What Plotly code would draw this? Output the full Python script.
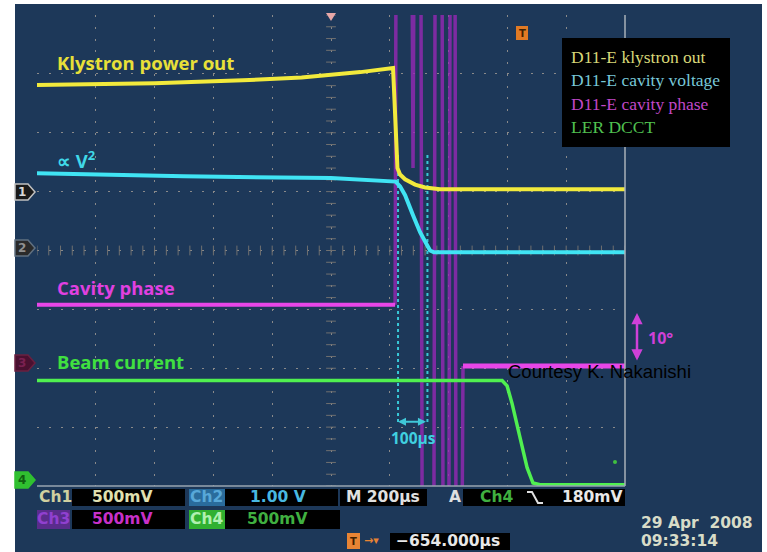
import numpy as np
import plotly.graph_objects as go

W, H = 767, 552

# ---------------- data (time in µs, signal in screen divisions) ----------------
klystron_t = [-1000, -600, -300, -100, 100, 211, 216, 221, 226, 235, 252, 286, 320, 371, 1000]
klystron_v = [2.81, 2.84, 2.89, 2.94, 3.03, 3.10, 2.55, 1.70, 1.40, 1.29, 1.21, 1.12, 1.07, 1.04, 1.04]

cavv_t = [-1000, -500, 0, 220, 235, 252, 279, 303, 327, 337, 350, 1000]
cavv_v = [1.31, 1.26, 1.23, 1.17, 1.09, 0.94, 0.60, 0.31, 0.09, 0.00, -0.03, -0.03]

phase_before_t = [-1000, 218]
phase_before_v = [-0.92, -0.92]
phase_wrap_t = [218, 221, 276, 279, 282, 306, 310, 350, 354, 378, 381, 401, 405, 422, 425, 446, 449]
phase_wrap_v = [-0.92, 4.6, 4.6, 1.4, 4.6, 4.6, -4.6, -4.6, 4.6, 4.6, -4.6, -4.6, 4.6, 4.6, -4.6, -4.6, -1.96]
phase_after_t = [449, 1000]
phase_after_v = [-1.96, -1.96]

beam_t = [-1000, 582, 599, 616, 643, 667, 687, 711, 1000]
beam_v = [-2.21, -2.21, -2.30, -2.60, -3.18, -3.69, -3.95, -3.98, -3.98]

cursor_t = [228, 328]          # 100 µs cursors
cursor_v_top, cursor_v_bot = 1.62, -2.94

legend_names = ["D11-E klystron out", "D11-E cavity voltage", "D11-E cavity phase", "LER DCCT"]
legend_colors = ["#d8d878", "#78c8d8", "#c048c8", "#50c050"]

# ---------------- helpers ----------------
def X(px):
    return px / W

def Y(py):
    return 1 - py / H

NAVY = "#1d3859"
YEL, CYA, MAG, GRN = "#f2ea3c", "#40e4f4", "#e846e8", "#50f050"
GRID = "#8a8a8a"

fig = go.Figure()

# graticule centre-line minor ticks
tick_t = np.arange(-1000, 1001, 40)
tick_v = np.arange(-4, 4.01, 0.2)
fig.add_trace(go.Scatter(x=tick_t, y=[0] * len(tick_t), mode="markers",
                         marker=dict(symbol="line-ns", size=7, line=dict(color="#707070", width=1)),
                         hoverinfo="skip", showlegend=False))
fig.add_trace(go.Scatter(x=[0] * len(tick_v), y=tick_v, mode="markers",
                         marker=dict(symbol="line-ew", size=7, line=dict(color="#707070", width=1)),
                         hoverinfo="skip", showlegend=False))

# phase wrap bands
fig.add_trace(go.Scatter(x=phase_wrap_t, y=phase_wrap_v, mode="lines",
                         line=dict(color="rgba(150,40,180,0.8)", width=3.5), showlegend=False))
# cursors
for ct in cursor_t:
    fig.add_trace(go.Scatter(x=[ct, ct], y=[cursor_v_top, cursor_v_bot], mode="lines",
                             line=dict(color="#38c8d8", width=2, dash="dot"), showlegend=False))
# traces
fig.add_trace(go.Scatter(x=phase_before_t, y=phase_before_v, mode="lines",
                         line=dict(color=MAG, width=4), showlegend=False))
fig.add_trace(go.Scatter(x=phase_after_t, y=phase_after_v, mode="lines",
                         line=dict(color=MAG, width=5), showlegend=False))
fig.add_trace(go.Scatter(x=beam_t, y=beam_v, mode="lines",
                         line=dict(color=GRN, width=3.5), showlegend=False))
fig.add_trace(go.Scatter(x=cavv_t, y=cavv_v, mode="lines",
                         line=dict(color=CYA, width=4), showlegend=False))
fig.add_trace(go.Scatter(x=klystron_t, y=klystron_v, mode="lines",
                         line=dict(color=YEL, width=4), showlegend=False))

shapes = []
# instrument background
shapes.append(dict(type="rect", xref="paper", yref="paper", x0=X(15), x1=X(762), y0=Y(552), y1=Y(4),
                   fillcolor=NAVY, line=dict(width=0), layer="below"))
# graticule borders
shapes.append(dict(type="line", xref="paper", yref="paper", x0=X(625), x1=X(625), y0=Y(486), y1=Y(15),
                   line=dict(color="#a8b0b8", width=1.5), layer="above"))
shapes.append(dict(type="line", xref="paper", yref="paper", x0=X(37), x1=X(625), y0=Y(486), y1=Y(486),
                   line=dict(color="#98a4b0", width=1.5), layer="above"))
# legend box
shapes.append(dict(type="rect", xref="paper", yref="paper", x0=X(562), x1=X(730), y0=Y(147), y1=Y(38),
                   fillcolor="#000000", line=dict(width=0), layer="above"))


def box(x0, x1, y0, y1, color):
    shapes.append(dict(type="rect", xref="paper", yref="paper", x0=X(x0), x1=X(x1), y0=Y(y1), y1=Y(y0),
                       fillcolor=color, line=dict(width=0), layer="above"))


# status bar boxes
box(72, 185, 489, 506, "#000000")
box(189, 225, 489, 506, "#2a6c9c")
box(225, 338, 489, 506, "#000000")
box(340, 427, 489, 506, "#000000")
box(463, 625, 489, 506, "#000000")
box(37, 70, 510, 529, "#5a2c8c")
box(72, 185, 510, 529, "#000000")
box(189, 225, 510, 529, "#30b030")
box(225, 340, 510, 529, "#000000")
box(347, 360, 533, 549, "#e88434")
box(390, 510, 533, 550, "#000000")
box(516, 528, 26, 40, "#e07a24")

# falling-edge trigger symbol
shapes.append(dict(type="path", xref="paper", yref="paper",
                   path=f"M {X(527)},{Y(492)} L {X(532)},{Y(492)} L {X(538)},{Y(503)} L {X(543)},{Y(503)}",
                   line=dict(color="#e0e0e0", width=2), layer="above"))
# trigger position marker at top
shapes.append(dict(type="path", xref="paper", yref="paper",
                   path=f"M {X(326)},{Y(13)} L {X(336)},{Y(13)} L {X(331)},{Y(21)} Z",
                   fillcolor="#e8a8a8", line=dict(width=0), layer="above"))
# small green cursor dot
shapes.append(dict(type="circle", xref="paper", yref="paper", x0=X(613), x1=X(617), y0=Y(464), y1=Y(460),
                   fillcolor="#40c040", line=dict(width=0), layer="above"))

# channel ground markers on the left
markers = [(192, "#1a1a1a", "#c0c0c0", "1", "#d8d8d8"),
           (248, "#2a2a2a", "#607080", "2", "#909090"),
           (363, "#4a1030", "#6a2040", "3", "#7a2050"),
           (480, "#30c030", "#30c030", "4", "#106010")]
for py, fill, edge, lab, tc in markers:
    shapes.append(dict(type="path", xref="paper", yref="paper",
                       path=(f"M {X(15)},{Y(py-8)} L {X(28)},{Y(py-8)} L {X(35)},{Y(py)} "
                             f"L {X(28)},{Y(py+8)} L {X(15)},{Y(py+8)} Z"),
                       fillcolor=fill, line=dict(color=edge, width=1.5), layer="above"))

ann = []


def txt(s, px, py, color, size=16, family="DejaVu Sans", weight="bold", xanchor="left"):
    ann.append(dict(text=s, x=X(px), y=Y(py), xref="paper", yref="paper", showarrow=False,
                    xanchor=xanchor, yanchor="middle",
                    font=dict(family=family, size=size, color=color, weight=weight)))


for py, fill, edge, lab, tc in markers:
    txt(lab, 22, py, tc, size=12, xanchor="center")

# trace labels
LF = "Open Sans"
TL = 18.5
txt("Klystron power out", 55, 62, "#e8e038", size=TL, family=LF)
txt("∝ V<sup>2</sup>", 55, 159, "#40d8e8", size=TL, family=LF)
txt("Cavity phase", 55, 287, "#e040e0", size=TL, family=LF)
txt("Beam current", 55, 361, "#40e040", size=TL, family=LF)

# legend entries
for i, (name, col) in enumerate(zip(legend_names, legend_colors)):
    txt(name, 569, 57 + i * 23.3, col, size=17.5, family="Liberation Serif", weight="normal")

# cursor readout
txt("100µs", 414, 438, "#40d0e0", size=15.5, family=LF, xanchor="center")
ann.append(dict(x=cursor_t[0], y=-2.91, ax=cursor_t[1], ay=-2.91, xref="x", yref="y",
                axref="x", ayref="y", showarrow=True, arrowhead=2, arrowside="end+start",
                arrowsize=0.8, arrowwidth=2, arrowcolor="#40c8d8", text=""))

# 10 degree scale
ann.append(dict(x=X(637), y=Y(313), ax=0, ay=49, xref="paper", yref="paper",
                showarrow=True, arrowhead=2, arrowside="end+start",
                arrowsize=0.9, arrowwidth=2.5, arrowcolor="#d040d8", text=""))
txt("10°", 646, 338, "#d040d8", size=16, family=LF)

# courtesy
txt("Courtesy K. Nakanishi", 506, 371, "#000000", size=18.5, family="Liberation Sans", weight="normal")

# status bar text
SB = 15.5
txt("Ch1", 37, 497, "#d0d0a0", size=SB)
txt("500mV", 90, 497, "#e0e0b0", size=SB)
txt("Ch2", 207, 497, "#58a8d8", size=SB, xanchor="center")
txt("1.00 V", 248, 497, "#48b8e0", size=SB)
txt("M 200µs", 344, 497, "#e0e0e0", size=SB)
txt("A", 455, 497, "#e0e0e0", size=SB, xanchor="center")
txt("Ch4", 478, 497, "#40b040", size=SB)
txt("180mV", 560, 497, "#e8e8e8", size=SB)
txt("Ch3", 53, 519, "#9040d0", size=SB, xanchor="center")
txt("500mV", 90, 519, "#c830c8", size=SB)
txt("Ch4", 207, 519, "#b0f0b0", size=SB, xanchor="center")
txt("500mV", 245, 519, "#40b040", size=SB)
txt("→▾", 362, 540, "#e88434", size=11)
txt("−654.000µs", 394, 541, "#e8e8e8", size=SB)
txt("29 Apr  2008", 639, 523, "#d8dcc8", size=SB)
txt("09:33:14", 639, 541, "#d8dcc8", size=SB)
txt("T", 522, 33, "#402000", size=10, xanchor="center")
txt("T", 353, 541, "#402000", size=10, xanchor="center")

fig.update_layout(
    width=W, height=H, margin=dict(l=0, r=0, t=0, b=0),
    paper_bgcolor="#ffffff", plot_bgcolor="#000000",
    showlegend=False, shapes=shapes, annotations=ann,
    xaxis=dict(domain=[X(37), X(625)], range=[-1000, 1000], dtick=200, tick0=-1000,
               showgrid=True, gridcolor=GRID, griddash="2px,9.76px", gridwidth=1,
               zeroline=False, showticklabels=False, ticks="", showline=False, fixedrange=True),
    yaxis=dict(domain=[Y(486), Y(15)], range=[-4, 4], dtick=1, tick0=-4,
               showgrid=True, gridcolor=GRID, griddash="2px,9.75px", gridwidth=1,
               zeroline=False, showticklabels=False, ticks="", showline=False, fixedrange=True),
)

fig.write_html("out.html")
